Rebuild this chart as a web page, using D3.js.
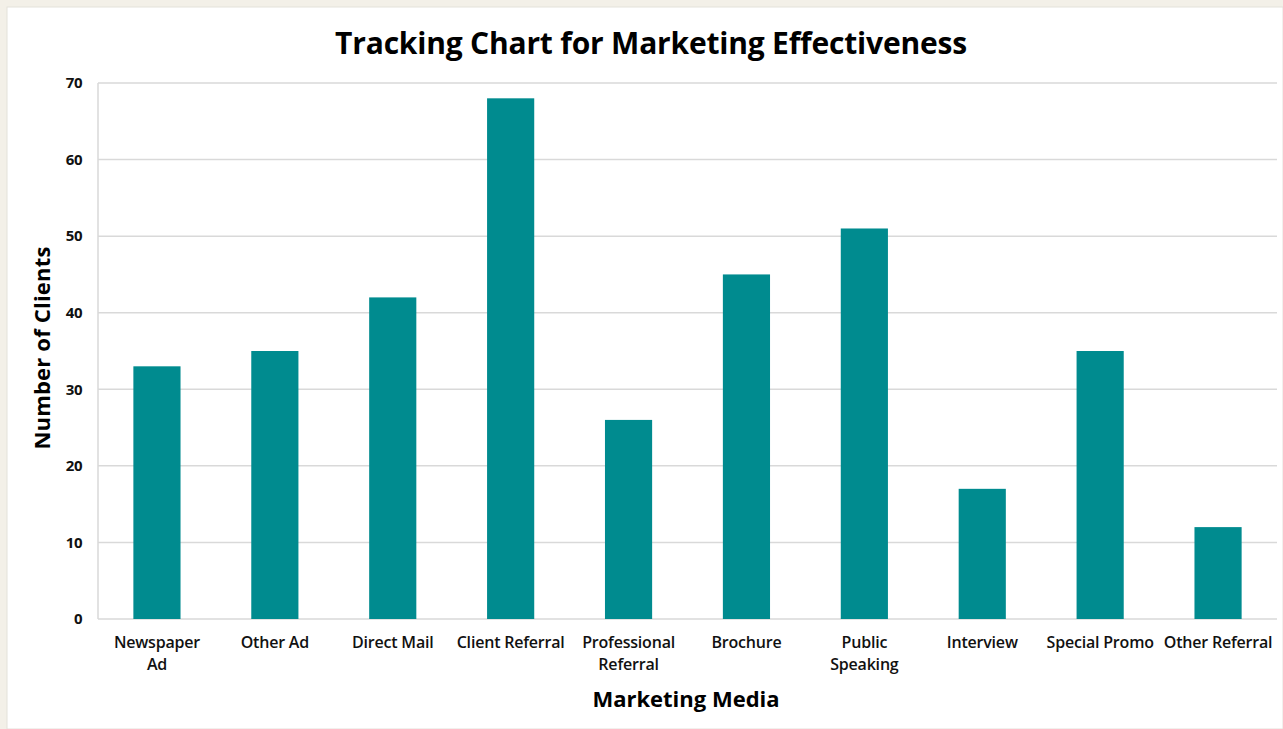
<!DOCTYPE html>
<html>
<head>
<meta charset="utf-8">
<script src="https://cdn.jsdelivr.net/npm/d3@7"></script>
<style>
  body { margin: 0; background: #f3f0e8; }
  svg { display: block; }
</style>
</head>
<body>
<div id="chart"></div>
<script>
// values
let categories = ["Newspaper Ad", "Other Ad", "Direct Mail", "Client Referral", "Professional Referral",
                  "Brochure", "Public Speaking", "Interview", "Special Promo", "Other Referral"];
let clients = [33, 35, 42, 68, 26, 45, 51, 17, 35, 12];
let yTicks = [0, 10, 20, 30, 40, 50, 60, 70];
// where the labels wrap onto two lines
let xLabelLines = [["Newspaper", "Ad"], ["Other Ad"], ["Direct Mail"], ["Client Referral"], ["Professional", "Referral"],
                   ["Brochure"], ["Public", "Speaking"], ["Interview"], ["Special Promo"], ["Other Referral"]];

let width = 1283, height = 729;
let margin = {top: 83, right: 6, bottom: 110, left: 98};
let font = "'Open Sans', sans-serif";

let svg = d3.select("#chart").append("svg")
    .attr("width", width)
    .attr("height", height);

// beige frame, white panel
svg.append("rect").attr("width", width).attr("height", height).attr("fill", "#f3f0e8");
svg.append("rect").attr("x", 7).attr("y", 7).attr("width", width - 7).attr("height", height - 7)
    .attr("fill", "#fff").attr("stroke", "#e4e1da").attr("stroke-width", 1);

let x = d3.scaleBand()
    .domain(categories)
    .range([margin.left, width - margin.right])
    .paddingInner(0.6)
    .paddingOuter(0.3);

let y = d3.scaleLinear()
    .domain([0, 70])
    .range([height - margin.bottom, margin.top]);

// gridlines
svg.append("g")
    .selectAll("line")
    .data(yTicks)
    .enter().append("line")
    .attr("x1", margin.left)
    .attr("x2", width - margin.right)
    .attr("y1", d => y(d))
    .attr("y2", d => y(d))
    .attr("stroke", "#d9d9d9")
    .attr("stroke-width", 1.5);

// y axis line
svg.append("line")
    .attr("x1", margin.left).attr("x2", margin.left)
    .attr("y1", y(70)).attr("y2", y(0))
    .attr("stroke", "#d9d9d9").attr("stroke-width", 1.5);

// bars
svg.append("g")
    .selectAll("rect")
    .data(clients)
    .enter().append("rect")
    .attr("x", (d, i) => x(categories[i]))
    .attr("width", x.bandwidth())
    .attr("y", d => y(d))
    .attr("height", d => y(0) - y(d))
    .attr("fill", "#008b8f");

// y tick labels
let yAxis = svg.append("g")
    .attr("transform", "translate(" + margin.left + ",0)")
    .call(d3.axisLeft(y).tickValues(yTicks).tickSize(0).tickPadding(16));
yAxis.select(".domain").remove();
yAxis.selectAll("text")
    .style("font-family", font)
    .style("font-weight", "bold")
    .style("font-size", "15px")
    .style("letter-spacing", "-0.5px")
    .attr("fill", "#111");

// x tick labels
let xAxis = svg.append("g")
    .attr("transform", "translate(0," + y(0) + ")")
    .call(d3.axisBottom(x).tickSize(0).tickFormat(""));
xAxis.select(".domain").remove();
xAxis.selectAll(".tick").each(function(d, i) {
    let t = d3.select(this).append("text")
        .attr("text-anchor", "middle")
        .attr("fill", "#111")
        .style("font-family", font)
        .style("font-weight", "600")
        .style("font-size", "16px")
        .style("letter-spacing", "-0.2px");
    xLabelLines[i].forEach((line, k) => {
        t.append("tspan").attr("x", 0).attr("y", 29 + k * 22).text(line);
    });
});

// title
svg.append("text")
    .attr("x", 651)
    .attr("y", 54)
    .attr("text-anchor", "middle")
    .style("font-family", font)
    .style("font-weight", "bold")
    .style("font-size", "30px")
    .style("letter-spacing", "-0.2px")
    .text("Tracking Chart for Marketing Effectiveness");

// axis titles
svg.append("text")
    .attr("x", 686)
    .attr("y", 707)
    .attr("text-anchor", "middle")
    .style("font-family", font)
    .style("font-weight", "bold")
    .style("font-size", "22px")
    .style("letter-spacing", "0px")
    .text("Marketing Media");

svg.append("text")
    .attr("transform", "translate(50,348) rotate(-90)")
    .attr("text-anchor", "middle")
    .style("font-family", font)
    .style("font-weight", "bold")
    .style("font-size", "22px")
    .style("letter-spacing", "0.2px")
    .text("Number of Clients");
</script>
</body>
</html>
